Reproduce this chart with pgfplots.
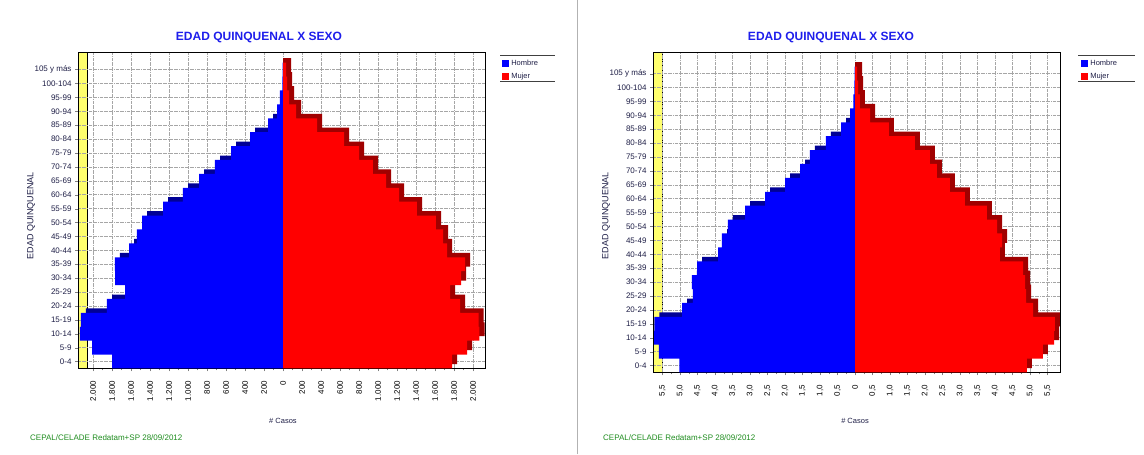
\documentclass[border=0pt]{standalone}
\usepackage{pgfplots}
\pgfplotsset{compat=1.18}
\usepackage{pgfplotstable}
\usepackage{fontspec}
\setmainfont{Liberation Sans}
\definecolor{hblue}{RGB}{0,0,255}
\definecolor{hbluedark}{RGB}{0,0,150}
\definecolor{mred}{RGB}{255,0,0}
\definecolor{mreddark}{RGB}{160,0,0}
\definecolor{titleblue}{RGB}{30,30,235}
\definecolor{footgreen}{RGB}{30,140,30}
\definecolor{wallyellow}{RGB}{255,255,110}
\definecolor{labnavy}{RGB}{30,30,70}

\pgfplotstableread{
g h m
0 1800 1779
1 2010 1937
2 2137 2068
3 2128 2058
4 1853 1863
5 1663 1758
6 1768 1874
7 1770 1916
8 1621 1726
9 1537 1684
10 1484 1610
11 1263 1410
12 1053 1221
13 884 1084
14 716 947
15 547 800
16 347 642
17 158 358
18 63 137
19 32 63
20 8 42
21 3 32
}\leftdata

\pgfplotstableread{
g h m
0 5.02 4.91
1 5.60 5.37
2 5.74 5.69
3 5.73 5.71
4 4.94 5.09
5 4.63 4.89
6 4.66 4.86
7 4.51 4.80
8 3.91 4.14
9 3.80 4.20
10 3.63 4.06
11 3.14 3.77
12 2.57 3.14
13 2.00 2.71
14 1.57 2.34
15 1.29 2.14
16 0.83 1.71
17 0.40 0.97
18 0.14 0.43
19 0.05 0.14
20 0.02 0.09
21 0.01 0.06
}\rightdata

\pgfplotsset{
 pyr/.style={
  scale only axis, anchor=south west, width=407pt,
  set layers,
  ymin=-0.5,
  ytick={0,...,21},
  yticklabels={0-4,5-9,10-14,15-19,20-24,25-29,30-34,35-39,40-44,45-49,50-54,55-59,60-64,65-69,70-74,75-79,80-84,85-89,90-94,95-99,100-104,105 y más},
  tick pos=left, tick align=outside, major tick length=3pt, minor tick length=2pt,
  minor x tick num=1,
  grid=major, major grid style={densely dashdotted, gray!70, line width=0.5pt},
  axis line style={line width=0.9pt},
  yticklabel style={font=\fontsize{8}{9}\selectfont, text=labnavy},
  xticklabel style={font=\fontsize{8}{9}\selectfont, rotate=90, anchor=east, text=black},
  xticklabel shift=6pt,
  legend style={draw=none, fill=none, font=\fontsize{7.5}{8}\selectfont, text=labnavy, anchor=north west, row sep=2pt, inner sep=0pt},
  legend cell align=left,
  legend image code/.code={\fill[##1] (0pt,-3.5pt) rectangle (7pt,3.5pt);},
  clip=true,
 },
 front/.style={xbar, bar width=1, bar shift=0, draw=none},
 shade/.style={xbar, bar width=1, bar shift=0.32, draw=none, forget plot},
}

\begin{document}
\begin{tikzpicture}
\path (0pt,0pt) rectangle (1144pt,454pt);

% ---------------- left panel ----------------
\begin{axis}[pyr, at={(78pt,86pt)}, height=316pt, ymax=22.23,
  xmin=-2158, xmax=2126,
  xtick={-2000,-1800,-1600,-1400,-1200,-1000,-800,-600,-400,-200,0,200,400,600,800,1000,1200,1400,1600,1800,2000},
  xticklabels={2.000,1.800,1.600,1.400,1.200,1.000,800,600,400,200,0,200,400,600,800,1.000,1.200,1.400,1.600,1.800,2.000},
  legend style={at={(1.042,0.984)}}]
 \begin{pgfonlayer}{axis background}
  \fill[wallyellow, draw=black, line width=0.5pt] (rel axis cs:0,0) rectangle (rel axis cs:0.022,1);
 \end{pgfonlayer}
 \addplot[shade, fill=hbluedark] table[y=g, x expr={-\thisrow{h}+53}] {\leftdata};
 \addplot[shade, fill=mreddark] table[y=g, x expr={\thisrow{m}+53}] {\leftdata};
 \addplot[front, fill=hblue] table[y=g, x expr={-\thisrow{h}}] {\leftdata};
 \addlegendentry{Hombre}
 \addplot[front, fill=mred] table[y=g, x=m] {\leftdata};
 \addlegendentry{Mujer}
\end{axis}

% ---------------- right panel ----------------
\begin{axis}[pyr, at={(653pt,82pt)}, height=320pt, ymax=22.52,
  xmin=-5.771, xmax=5.857,
  xtick={-5.5,-5,-4.5,-4,-3.5,-3,-2.5,-2,-1.5,-1,-0.5,0,0.5,1,1.5,2,2.5,3,3.5,4,4.5,5,5.5},
  xticklabels={{5,5},{5,0},{4,5},{4,0},{3,5},{3,0},{2,5},{2,0},{1,5},{1,0},{0,5},0,{0,5},{1,0},{1,5},{2,0},{2,5},{3,0},{3,5},{4,0},{4,5},{5,0},{5,5}},
  legend style={at={(1.052,0.984)}}]
 \begin{pgfonlayer}{axis background}
  \fill[wallyellow, draw=black, line width=0.5pt] (rel axis cs:0,0) rectangle (rel axis cs:0.022,1);
 \end{pgfonlayer}
 \addplot[shade, fill=hbluedark] table[y=g, x expr={-\thisrow{h}+0.143}] {\rightdata};
 \addplot[shade, fill=mreddark] table[y=g, x expr={\thisrow{m}+0.143}] {\rightdata};
 \addplot[front, fill=hblue] table[y=g, x expr={-\thisrow{h}}] {\rightdata};
 \addlegendentry{Hombre}
 \addplot[front, fill=mred] table[y=g, x=m] {\rightdata};
 \addlegendentry{Mujer}
\end{axis}

% legend rules
\draw[line width=1.3pt, black!75] (500pt,399pt) -- (555pt,399pt) (500pt,373pt) -- (555pt,373pt);
\draw[line width=1.3pt, black!75] (1078pt,399pt) -- (1135pt,399pt) (1078pt,373pt) -- (1135pt,373pt);

% titles and labels
\node[font=\bfseries\fontsize{12}{14}\selectfont, text=titleblue] at (259pt,417pt) {EDAD QUINQUENAL X SEXO};
\node[font=\bfseries\fontsize{12}{14}\selectfont, text=titleblue] at (831pt,417pt) {EDAD QUINQUENAL X SEXO};
\node[rotate=90, font=\fontsize{9}{10}\selectfont, text=labnavy] at (31pt,239pt) {EDAD QUINQUENAL};
\node[rotate=90, font=\fontsize{9}{10}\selectfont, text=labnavy] at (606pt,239pt) {EDAD QUINQUENAL};
\node[font=\fontsize{7.5}{8}\selectfont, text=labnavy] at (283pt,34pt) {\# Casos};
\node[font=\fontsize{7.5}{8}\selectfont, text=labnavy] at (855pt,34pt) {\# Casos};
\node[anchor=west, inner sep=0pt, font=\fontsize{8}{9}\selectfont, text=footgreen] at (30pt,17pt) {CEPAL/CELADE Redatam+SP 28/09/2012};
\node[anchor=west, inner sep=0pt, font=\fontsize{8}{9}\selectfont, text=footgreen] at (603pt,17pt) {CEPAL/CELADE Redatam+SP 28/09/2012};

% separator
\draw[gray!60, line width=1pt] (577pt,0pt) -- (577pt,454pt);
\end{tikzpicture}
\end{document}
